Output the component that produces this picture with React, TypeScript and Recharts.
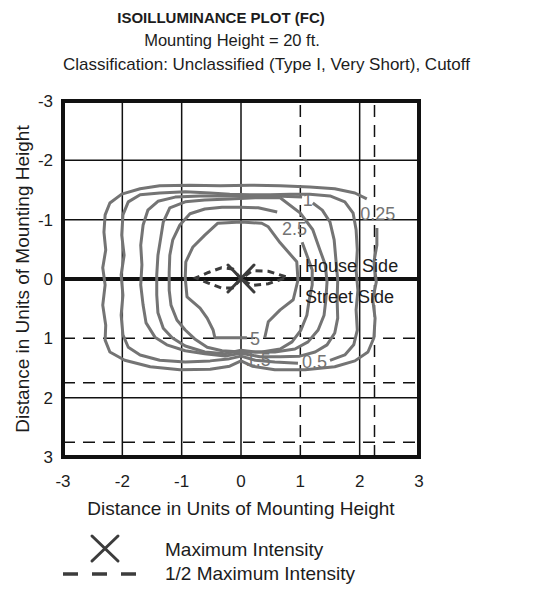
import React from 'react';
import { ScatterChart, Scatter, XAxis, YAxis, ReferenceLine, ReferenceArea } from 'recharts';

const FONT = '"Liberation Sans", Arial, Helvetica, sans-serif';

const xTicks = [-3, -2, -1, 0, 1, 2, 3];
const yTicks = [-3, -2, -1, 0, 1, 2, 3];
const gridX = [-2, -1, 0, 2];
const gridY = [-2, -1, 2];
const dashedX = [1, 2.25];
const dashedY = [1, 1.75, 2.75];

type P = { x: number; y: number };
const pts = (a: number[][]): P[] => a.map(([x, y]) => ({ x, y }));

// 0.25 fc
const contour025 = pts([
  [2.12, -1.35], [1.92, -1.45], [1.58, -1.52], [1.16, -1.55], [0.66, -1.57], [0.15, -1.58],
  [-0.35, -1.57], [-0.86, -1.58], [-1.37, -1.57], [-1.7, -1.52], [-2.01, -1.43], [-2.21, -1.28],
  [-2.29, -1.08], [-2.31, -0.79], [-2.28, -0.49], [-2.33, -0.19], [-2.29, 0.1], [-2.33, 0.44],
  [-2.28, 0.78], [-2.29, 1.03], [-2.21, 1.23], [-1.96, 1.37], [-1.53, 1.48], [-1.03, 1.53],
  [-0.52, 1.52], [-0.19, 1.47], [0, 1.38], [0.19, 1.47], [0.57, 1.53], [1.08, 1.53],
  [1.58, 1.48], [1.92, 1.38], [2.14, 1.23], [2.24, 0.99], [2.26, 0.66], [2.22, 0.35],
  [2.28, 0.05], [2.24, -0.29], [2.29, -0.57], [2.29, -0.86],
]);

// 0.5 fc
const contour05 = pts([
  [1.5, 1.37], [1.75, 1.28], [1.9, 1.11], [1.96, 0.86], [1.94, 0.52], [1.97, 0.19],
  [1.94, -0.15], [1.96, -0.49], [1.94, -0.83], [1.89, -1.11], [1.75, -1.3], [1.5, -1.4],
  [1.16, -1.43], [0.83, -1.43], [0.49, -1.42], [0.15, -1.42], [-0.19, -1.43], [-0.52, -1.45],
  [-0.94, -1.47], [-1.37, -1.45], [-1.7, -1.42], [-1.9, -1.3], [-1.99, -1.08], [-2.01, -0.74],
  [-1.97, -0.4], [-2.02, -0.07], [-1.99, 0.27], [-2.02, 0.61], [-1.99, 0.94], [-1.9, 1.15],
  [-1.7, 1.28], [-1.37, 1.37], [-0.94, 1.4], [-0.52, 1.38], [-0.22, 1.35], [0, 1.3],
  [0.24, 1.37], [0.57, 1.4], [0.96, 1.42],
]);

// 1 fc
const contour1 = pts([
  [1.21, -1.28], [1.37, -1.16], [1.5, -0.96], [1.57, -0.66], [1.6, -0.32], [1.63, 0.02],
  [1.62, 0.35], [1.63, 0.66], [1.58, 0.91], [1.45, 1.11], [1.25, 1.23], [0.99, 1.3],
  [0.66, 1.31], [0.32, 1.31], [0, 1.25], [-0.27, 1.3], [-0.61, 1.26], [-0.94, 1.21],
  [-1.25, 1.11], [-1.45, 0.98], [-1.6, 0.74], [-1.65, 0.44], [-1.69, 0.1], [-1.67, -0.24],
  [-1.69, -0.57], [-1.65, -0.91], [-1.57, -1.16], [-1.4, -1.31], [-1.11, -1.38], [-0.69, -1.4],
  [-0.27, -1.4], [0.15, -1.4], [0.57, -1.4], [1.03, -1.38],
]);

// 1.5 fc
const contour15 = pts([
  [0.66, -1.37], [1.0, -1.11], [1.21, -0.83], [1.33, -0.49], [1.42, -0.24], [1.45, 0.05],
  [1.43, 0.35], [1.4, 0.61], [1.3, 0.86], [1.13, 1.06], [0.91, 1.18], [0.57, 1.23],
  [0.24, 1.23], [0, 1.2], [-0.27, 1.26], [-0.61, 1.23], [-0.94, 1.13], [-1.16, 0.99],
  [-1.31, 0.83], [-1.4, 0.57], [-1.42, 0.27], [-1.42, -0.07], [-1.4, -0.4], [-1.35, -0.71],
  [-1.31, -0.96], [-1.2, -1.2], [-0.94, -1.3], [-0.61, -1.33], [-0.19, -1.35], [0.24, -1.37],
  [0.66, -1.37],
]);

// 2.5 fc
const contour25 = pts([
  [1.03, -0.62], [1.11, -0.4], [1.2, -0.15], [1.2, 0.1], [1.15, 0.35], [1.11, 0.61],
  [1.01, 0.86], [0.86, 1.06], [0.66, 1.18], [0.35, 1.23], [0, 1.23], [-0.32, 1.21],
  [-0.57, 1.15], [-0.78, 1.01], [-0.94, 0.86], [-1.08, 0.69], [-1.18, 0.44], [-1.21, 0.19],
  [-1.21, -0.12], [-1.2, -0.4], [-1.15, -0.66], [-1.03, -0.91], [-0.86, -1.1], [-0.61, -1.18],
  [-0.32, -1.21], [-0.02, -1.21], [0.29, -1.2], [0.61, -1.13],
]);

// 5 fc
const contour5 = pts([
  [0.4, 0.99], [0.46, 0.72], [0.66, 0.52], [0.88, 0.35], [0.96, 0.02], [0.94, -0.29],
  [0.66, -0.61], [0.46, -0.88], [0.35, -0.94], [0, -0.96], [-0.39, -0.94], [-0.61, -0.74],
  [-0.81, -0.54], [-0.93, -0.29], [-0.94, -0.02], [-0.91, 0.3], [-0.69, 0.49], [-0.57, 0.66],
  [-0.47, 0.86], [-0.44, 0.99], [0.1, 0.99],
]);

const contours = [contour025, contour05, contour1, contour15, contour25, contour5];

const hiddenLabels = [{ x: 0.08, y: 1.47, label: '1.5' }];
const contourLabels = [
  { x: 2.01, y: -1.0, label: '0.25' },
  { x: 1.04, y: -1.23, label: '1' },
  { x: 0.69, y: -0.74, label: '2.5' },
  { x: 0.15, y: 1.11, label: '5' },
  { x: 1.03, y: 1.5, label: '0.5' },
];
const sideLabels = [
  { x: 1.08, y: -0.12, label: 'House Side' },
  { x: 1.08, y: 0.4, label: 'Street Side' },
];

const maxPoint = [{ x: 0, y: 0 }];
const halfMax = pts([
  [0, 0], [-0.14, -0.17], [-0.33, -0.19], [-0.55, -0.11], [-0.76, -0.02], [-0.55, 0.07],
  [-0.33, 0.15], [-0.14, 0.15], [0, 0], [0.19, -0.14], [0.46, -0.13], [0.78, -0.03],
  [0.46, 0.08], [0.19, 0.11], [0, 0],
]);

const titleLines = [
  'ISOILLUMINANCE PLOT (FC)',
  'Mounting Height = 20 ft.',
  'Classification: Unclassified (Type I, Very Short), Cutoff',
];
const legendLabels = ['Maximum Intensity', '1/2 Maximum Intensity'];
const axisTitle = 'Distance in Units of Mounting Height';

const CONTOUR = '#747474';
const DARK = '#3c3c3c';
const INK = '#1c1c1c';

const noShape = () => <g />;
const textShape = (color: string) => (p: any) => (
  <text x={p.cx} y={p.cy} fill={color} fontSize={18} fontFamily={FONT}>
    {p.payload.label}
  </text>
);
const xShape = (p: any) => (
  <g stroke={DARK} strokeWidth={3} strokeLinecap="round">
    <line x1={p.cx - 13} y1={p.cy - 14} x2={p.cx + 13} y2={p.cy + 13} />
    <line x1={p.cx + 13} y1={p.cy - 14} x2={p.cx - 13} y2={p.cy + 13} />
  </g>
);

export default function App() {
  return (
    <div style={{ position: 'absolute', left: 0, top: 0, width: 540, height: 612, background: '#fff' }}>
      <ScatterChart width={540} height={612} margin={{ top: 101, right: 121, bottom: 95, left: 0 }}>
        <XAxis
          type="number"
          dataKey="x"
          domain={[-3, 3]}
          ticks={xTicks}
          allowDataOverflow
          axisLine={false}
          tickLine={false}
          tickSize={0}
          tickMargin={18}
          height={60}
          tick={{ fontSize: 17, fill: INK, fontFamily: FONT }}
          label={{ value: axisTitle, position: 'insideBottom', offset: 2, fontSize: 19, fill: INK, fontFamily: FONT }}
        />
        <YAxis
          type="number"
          dataKey="y"
          domain={[-3, 3]}
          reversed
          ticks={yTicks}
          allowDataOverflow
          axisLine={false}
          tickLine={false}
          tickSize={0}
          tickMargin={10}
          width={63}
          tick={{ fontSize: 17, fill: INK, fontFamily: FONT }}
          label={{
            value: axisTitle,
            angle: -90,
            position: 'insideLeft',
            offset: 22,
            fontSize: 19,
            fill: INK,
            fontFamily: FONT,
            style: { textAnchor: 'middle' },
          }}
        />
        {gridX.map((v) => (
          <ReferenceLine key={'gx' + v} x={v} stroke="#111" strokeWidth={1.5} />
        ))}
        {gridY.map((v) => (
          <ReferenceLine key={'gy' + v} y={v} stroke="#111" strokeWidth={1.5} />
        ))}
        {dashedX.map((v) => (
          <ReferenceLine key={'dx' + v} x={v} stroke="#111" strokeWidth={1.5} strokeDasharray="12 8" />
        ))}
        {dashedY.map((v) => (
          <ReferenceLine key={'dy' + v} y={v} stroke="#111" strokeWidth={1.5} strokeDasharray="12 8" />
        ))}
        <ReferenceLine y={0} stroke="#111" strokeWidth={4} />
        <ReferenceArea x1={-3} x2={3} y1={-3} y2={3} fill="none" fillOpacity={0} stroke="#111" strokeWidth={4} />
        <Scatter data={hiddenLabels} shape={textShape(CONTOUR)} isAnimationActive={false} />
        {contours.map((c, i) => (
          <Scatter
            key={'c' + i}
            data={c}
            line={{ stroke: CONTOUR, strokeWidth: 3, strokeLinejoin: 'round', strokeLinecap: 'butt' }}
            shape={noShape}
            isAnimationActive={false}
          />
        ))}
        <Scatter data={contourLabels} shape={textShape(CONTOUR)} isAnimationActive={false} />
        <Scatter data={sideLabels} shape={textShape(INK)} isAnimationActive={false} />
        <Scatter
          data={halfMax}
          line={{ stroke: DARK, strokeWidth: 3, strokeDasharray: '7 5' }}
          shape={noShape}
          isAnimationActive={false}
        />
        <Scatter data={maxPoint} shape={xShape} isAnimationActive={false} />
      </ScatterChart>
      <svg
        width={540}
        height={612}
        style={{ position: 'absolute', left: 0, top: 0, pointerEvents: 'none' }}
        fontFamily={FONT}
      >
        <text x={221} y={23} textAnchor="middle" fontSize={15} fontWeight="bold" fill={INK}>
          {titleLines[0]}
        </text>
        <text x={232} y={46} textAnchor="middle" fontSize={16.5} fill={INK}>
          {titleLines[1]}
        </text>
        <text x={63} y={70} fontSize={17} fill={INK}>
          {titleLines[2]}
        </text>
        <g stroke={DARK} strokeWidth={3} strokeLinecap="round">
          <line x1={92} y1={536} x2={118} y2={561} />
          <line x1={118} y1={536} x2={92} y2={561} />
        </g>
        <line x1={63} y1={574} x2={138} y2={574} stroke={DARK} strokeWidth={3.5} strokeDasharray="15 14" />
        <text x={165} y={556} fontSize={19} fill={INK}>
          {legendLabels[0]}
        </text>
        <text x={165} y={580} fontSize={19} fill={INK}>
          {legendLabels[1]}
        </text>
      </svg>
    </div>
  );
}
